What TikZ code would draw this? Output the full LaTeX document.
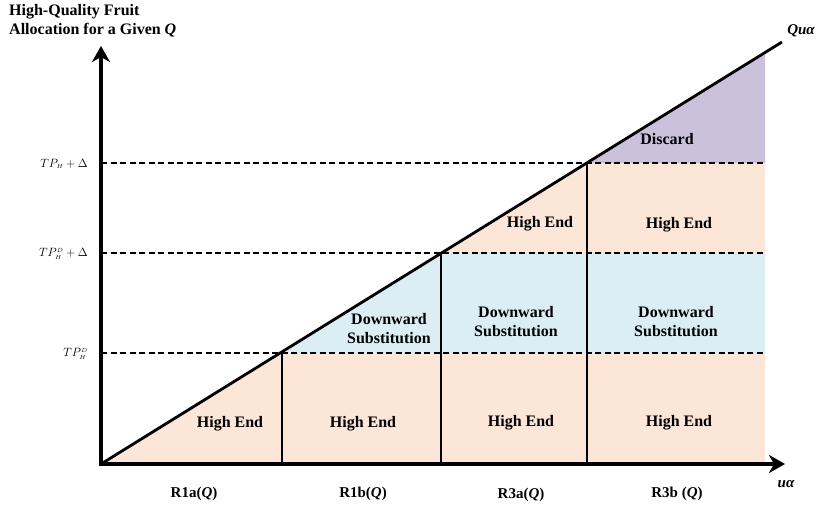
\documentclass[tikz,border=0pt]{standalone}
\usepackage{fontspec}
\setmainfont{Liberation Serif}
\usetikzlibrary{arrows.meta}
\definecolor{peach}{HTML}{FCE6D8}
\definecolor{lblue}{HTML}{DAEEF3}
\definecolor{lpurple}{HTML}{CCC1DC}
\tikzset{
  axis/.style={line width=3.2pt,-{Stealth[length=16pt,width=18pt,inset=5pt]}},
  diag/.style={line width=2.8pt},
  vline/.style={line width=2.6pt},
  dline/.style={line width=1.9pt,dash pattern=on 6pt off 3.5pt},
  lab/.style={font=\fontsize{16}{19}\selectfont\bfseries,align=center,inner sep=0pt},
  ylab/.style={font=\fontsize{13}{15}\selectfont,anchor=east,inner sep=0pt},
  xlab/.style={font=\fontsize{15}{17}\selectfont\bfseries,inner sep=0pt}
}
\begin{document}
\begin{tikzpicture}[x=1pt,y=-1pt]
\useasboundingbox (0,0) rectangle (819,510);
% key coordinates
\coordinate (O) at (101,464);
\coordinate (E) at (782,42);
\coordinate (A) at (282,353);
\coordinate (B) at (441,253);
\coordinate (C) at (587,163);
% fills
\fill[peach] (O) -- (A) -- (765,353) -- (765,464) -- cycle;
\fill[lblue] (A) -- (B) -- (765,253) -- (765,353) -- cycle;
\fill[peach] (B) -- (C) -- (765,163) -- (765,253) -- cycle;
\fill[lpurple] (C) -- (765,52.5) -- (765,163) -- cycle;
% dashed lines
\draw[dline] (101,353) -- (765,353);
\draw[dline] (101,253) -- (765,253);
\draw[dline] (101,163) -- (765,163);
% verticals
\draw[vline] (A) -- (282,464);
\draw[vline] (B) -- (441,464);
\draw[vline] (C) -- (587,464);
% diagonal
\draw[diag] (O) -- (E);
% axes
\draw[axis] (101,465.6) -- (101,46);
\draw[axis] (99.4,464) -- (785,464);
% region labels
\node[lab] (he1) at (230,424) {High End};
\node[lab] (he2) at (363,424) {High End};
\node[lab] (he3) at (521,423) {High End};
\node[lab] (he4) at (679,423) {High End};
\node[lab] (ds1) at (389,329) {Downward\\Substitution};
\node[lab] (ds2) at (516,322) {Downward\\Substitution};
\node[lab] (ds3) at (676,322) {Downward\\Substitution};
\node[lab] (he5) at (540,224) {High End};
\node[lab] (he6) at (679,225) {High End};
\node[lab] (dc) at (667,139) {Discard};
% y labels
\node[ylab] (y1) at (88,164) {$TP_{\scriptscriptstyle H}+\Delta$};
\node[ylab] (y2) at (88,254) {$TP_{\scriptscriptstyle H}^{\scriptscriptstyle D}+\Delta$};
\node[ylab] (y3) at (88,354) {$TP_{\scriptscriptstyle H}^{\scriptscriptstyle D}$};
% x labels
\node[xlab] (r1) at (194,494) {R1a(\textit{Q})};
\node[xlab] (r2) at (363,494) {R1b(\textit{Q})};
\node[xlab] (r3) at (521,495) {R3a(\textit{Q})};
\node[xlab] (r4) at (677,494) {R3b (\textit{Q})};
\node[xlab,font=\fontsize{15}{17}\selectfont\bfseries\itshape] (ua) at (786,484) {uα};
\node[xlab,font=\fontsize{15}{17}\selectfont\bfseries\itshape] (qua) at (801,31) {Quα};
% title
\node[lab,align=left,anchor=north west] (tt) at (9,4) {High-Quality Fruit\\Allocation for a Given \textit{Q}};
\end{tikzpicture}
\end{document}
